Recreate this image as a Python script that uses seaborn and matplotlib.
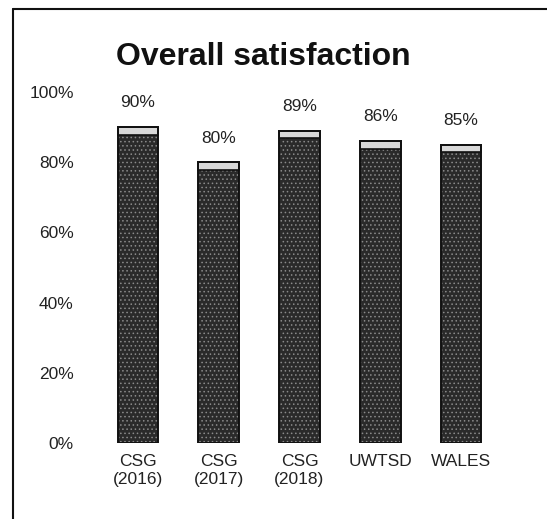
import matplotlib
matplotlib.use('Agg')
import matplotlib.pyplot as plt
import pandas as pd
import seaborn as sns
from matplotlib.lines import Line2D

groups = ['CSG\n(2016)', 'CSG\n(2017)', 'CSG\n(2018)', 'UWTSD', 'WALES']
satisfaction = [90, 80, 89, 86, 85]
yticks = [0, 20, 40, 60, 80, 100]

df = pd.DataFrame({'group': groups, 'satisfaction': satisfaction})

sns.set_style('white')
plt.rcParams['font.family'] = ['Liberation Sans', 'DejaVu Sans']
plt.rcParams['hatch.linewidth'] = 0.6

fig = plt.figure(figsize=(5.47, 5.19), dpi=100)
ax = fig.add_axes([0.178, 0.1464, 0.739, 0.6763])

sns.barplot(data=df, x='group', y='satisfaction', color='#2a2a2a',
            width=0.5, saturation=1, ax=ax)

for bar in ax.patches:
    bar.set_hatch('....')
    bar.set_edgecolor('#8a8a8a')
    bar.set_linewidth(0)
    # light bevel at the top of each bar
    x, w, h = bar.get_x(), bar.get_width(), bar.get_height()
    ax.bar(x + w / 2, 2.2, width=w, bottom=h - 2.2, color='#d8d8d8',
           edgecolor='#111111', linewidth=1.2, zorder=3)
    ax.bar(x + w / 2, h, width=w, color='none', edgecolor='#111111',
           linewidth=1.4, zorder=4)
    ax.annotate(f'{h:.0f}%', (x + w / 2, h), xytext=(0, 12),
                textcoords='offset points', ha='center', va='bottom',
                fontsize=12.5, color='#222222', annotation_clip=False)

ax.set_xlim(-0.5, 4.5)
ax.set_ylim(0, 100)
ax.set_yticks(yticks)
ax.set_yticklabels([f'{t}%' for t in yticks])
ax.set_xlabel('')
ax.set_ylabel('')
ax.tick_params(axis='y', length=0, pad=17, labelsize=12.5, labelcolor='#222222')
ax.tick_params(axis='x', length=0, pad=8, labelsize=12.5, labelcolor='#222222')
sns.despine(ax=ax, left=True, bottom=True)

fig.text(0.482, 0.875, 'Overall satisfaction', ha='center', va='baseline',
         fontsize=23, fontweight='bold', color='#111111')

# scanned frame: top and left edges
fig.add_artist(Line2D([0.023, 1.0], [0.982, 0.982], color='#111111', lw=1.5,
                      transform=fig.transFigure))
fig.add_artist(Line2D([0.023, 0.023], [0.0, 0.982], color='#111111', lw=1.5,
                      transform=fig.transFigure))

fig.savefig('out.png', dpi=100)
